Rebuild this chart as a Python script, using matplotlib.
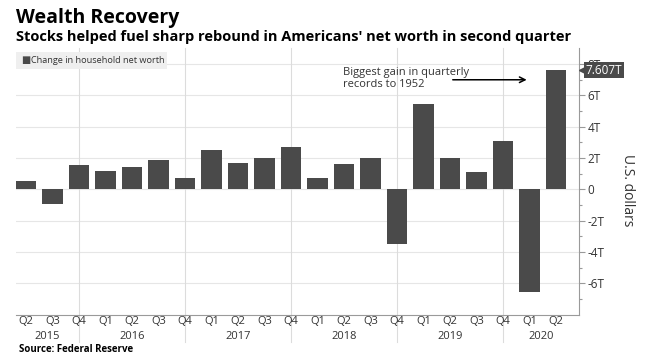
import matplotlib.pyplot as plt
from matplotlib.transforms import blended_transform_factory

# Quarterly change in US household net worth, trillions of dollars
quarters = ['Q2', 'Q3', 'Q4',
            'Q1', 'Q2', 'Q3', 'Q4',
            'Q1', 'Q2', 'Q3', 'Q4',
            'Q1', 'Q2', 'Q3', 'Q4',
            'Q1', 'Q2', 'Q3', 'Q4',
            'Q1', 'Q2']
values = [0.55, -0.96, 1.56,
          1.17, 1.45, 1.86, 0.74,
          2.50, 1.70, 1.99, 2.69,
          0.75, 1.65, 2.00, -3.48,
          5.47, 1.99, 1.09, 3.10,
          -6.58, 7.607]
years = ['2015', '2016', '2017', '2018', '2019', '2020']
yticks = [-6, -4, -2, 0, 2, 4, 6, 8]
ytick_labels = ['-6T', '-4T', '-2T', '0', '2T', '4T', '6T', '8T']

bar_color = '#4a4a4a'
grid_color = '#e6e6e6'
text_color = '#333333'
font = 'Open Sans'

plt.rcParams['font.family'] = [font, 'DejaVu Sans']

fig = plt.figure(figsize=(6.46, 3.62), dpi=100)
ax = fig.add_axes([16 / 646, 1 - 315 / 362, (579 - 16) / 646, (315 - 48) / 362])

x = list(range(len(values)))
ax.bar(x, values, width=0.76, color=bar_color, zorder=3)

xmin, xmax = -0.38, 20.87
ax.set_xlim(xmin, xmax)
ax.set_ylim(-8.03, 9.03)

# spines
for s in ['left', 'top']:
    ax.spines[s].set_visible(False)
for s in ['bottom', 'right']:
    ax.spines[s].set_color('#9a9a9a')
    ax.spines[s].set_linewidth(0.8)

# y axis on the right
ax.yaxis.tick_right()
ax.set_yticks(yticks)
ax.set_yticklabels(ytick_labels)
ax.set_yticks([-7, -5, -3, -1, 1, 3, 5, 7], minor=True)
ax.tick_params(axis='y', which='major', direction='out', length=4, width=0.8,
               color='#9a9a9a', labelsize=8.5, labelcolor=text_color, pad=2)
ax.tick_params(axis='y', which='minor', direction='out', length=2.5, width=0.8,
               color='#9a9a9a')
for lab in ax.get_yticklabels():
    lab.set_horizontalalignment('left')
for v in yticks:
    ax.axhline(v, color=grid_color, lw=0.8, zorder=0)

# x axis: quarter labels, year labels below
ax.set_xticks(x)
ax.set_xticklabels(quarters)
ax.tick_params(axis='x', length=0, labelsize=8, labelcolor=text_color, pad=1)

trans = blended_transform_factory(ax.transData, ax.transAxes)
q4 = [i for i, q in enumerate(quarters) if q == 'Q4']
for i in q4:
    ax.plot([i, i], [-0.1, 1], color='#dcdcdc', lw=0.8, transform=trans,
            clip_on=False, zorder=0)
bounds = [xmin] + q4 + [xmax]
for k, yr in enumerate(years):
    xc = (bounds[k] + bounds[k + 1]) / 2
    ax.text(xc, -0.082, yr, transform=trans, ha='center', va='center',
            fontsize=8, color=text_color)

# last value tag
ytrans = blended_transform_factory(ax.transAxes, ax.transData)
ax.plot([1.006], [values[-1]], marker='<', ms=5, color=bar_color,
        transform=ytrans, clip_on=False, zorder=5)
ax.text(1.012, values[-1], '7.607T', transform=ytrans, ha='left', va='center',
        fontsize=8.5, color='white', zorder=6,
        bbox=dict(boxstyle='square,pad=0.12', fc=bar_color, ec='none'))

# annotation
ax.annotate('', xy=(19.0, 7.0), xytext=(16.0, 7.0),
            arrowprops=dict(arrowstyle='->', color='black', lw=1.1))
ax.text(11.96, 7.08, 'Biggest gain in quarterly\nrecords to 1952', ha='left',
        va='center', fontsize=8, color=text_color, linespacing=1.15)

# legend box
fig.patches.append(plt.Rectangle((16 / 646, 1 - 69 / 362), 151 / 646, 17 / 362,
                                 transform=fig.transFigure, fc='#efefef',
                                 ec='none', zorder=1))
fig.text(21 / 646, 1 - 60.5 / 362, '\u25a0', fontsize=7, color=bar_color,
         va='center', ha='left', family='DejaVu Sans')
fig.text(31 / 646, 1 - 60.5 / 362, 'Change in household net worth', fontsize=6.6,
         color=text_color, va='center', ha='left')

# titles and source
fig.text(16 / 646, 1 - 18 / 362, 'Wealth Recovery', fontsize=14,
         fontweight='bold', color='black', va='center', ha='left')
fig.text(16 / 646, 1 - 37 / 362,
         "Stocks helped fuel sharp rebound in Americans' net worth in second quarter",
         fontsize=10.5, fontweight='bold', color='black', va='center', ha='left')
fig.text(19 / 646, 1 - 349 / 362, 'Source: Federal Reserve', fontsize=7,
         fontweight='bold', color='black', va='center', ha='left')

fig.text(628 / 646, 1 - 190 / 362, 'U.S. dollars', rotation=270, fontsize=10,
         color=text_color, va='center', ha='center')

plt.savefig('out.png', dpi=100)
